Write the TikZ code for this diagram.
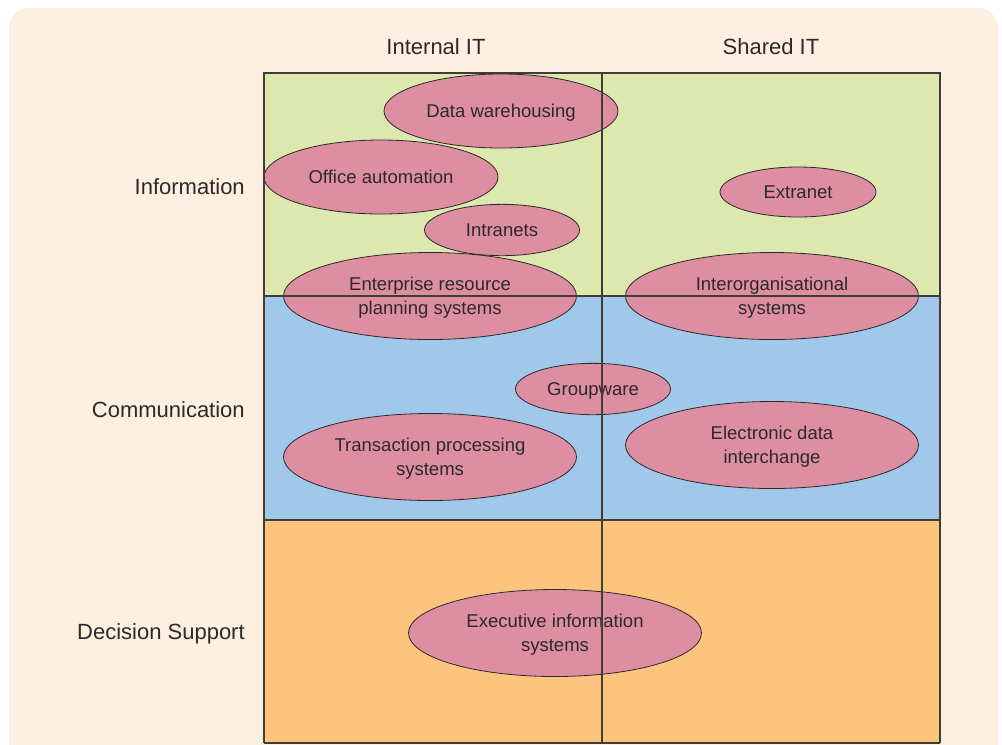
\documentclass[tikz,border=0pt]{standalone}
\usepackage{fontspec}
\newfontfamily\diagfont{Liberation Sans}
\usepackage{xcolor}
\usetikzlibrary{shapes.geometric, positioning}

\definecolor{panelcream}{HTML}{FDF0E1}
\definecolor{infogreen}{HTML}{DCE8AE}
\definecolor{commblue}{HTML}{A0C8EA}
\definecolor{decorange}{HTML}{FDC47E}
\definecolor{ovalpink}{HTML}{DE8EA2}
\definecolor{inkgray}{HTML}{2B2A28}
\definecolor{gridgray}{HTML}{3F3D36}

\begin{document}
\begin{tikzpicture}[
    x=0.75pt, y=-0.75pt,
    oval/.style={ellipse, draw=inkgray, line width=0.6pt, fill=ovalpink, inner sep=0pt, align=center,
        text depth=0pt, text=inkgray, font=\diagfont\fontsize{13.9pt}{18pt}\selectfont},
    bigoval/.style={oval, minimum width=219.75pt, minimum height=65.25pt},
    midoval/.style={oval, minimum width=175.5pt, minimum height=55.5pt},
    smalloval/.style={oval, minimum width=116.25pt, minimum height=38.5pt},
    heading/.style={text=inkgray, inner sep=0pt, font=\diagfont\fontsize{16.5pt}{20pt}\selectfont},
    gridline/.style={draw=gridgray, line width=0.8pt}
]
\useasboundingbox (0,0) rectangle (1002,744);

% Panel
\fill[panelcream, rounded corners=15pt] (9,8) rectangle (998,770);

% Bands
\fill[infogreen] (264,73) rectangle (940,296);
\fill[commblue] (264,296) rectangle (940,520);
\fill[decorange] (264,520) rectangle (940,743);

% Column and row headings
\node[heading] (internal) at (436,47) {Internal IT};
\node[heading] (shared) at (771,47) {Shared IT};
\node[heading, anchor=east] (info) at (245,187) {Information};
\node[heading, anchor=east] (comm) at (245,410) {Communication};
\node[heading, anchor=east] (decision) at (245,634) {Decision Support};

% Systems
\node[midoval] (warehouse) at (501,111) {Data warehousing};
\node[midoval] (office) at (381,177) {Office automation};
\node[smalloval] (intranets) at (502,230) {Intranets};
\node[smalloval, minimum width=117pt, minimum height=37.5pt] (extranet) at (798,192) {Extranet};
\node[bigoval] (erp) at (430,296) {Enterprise resource\\planning systems};
\node[bigoval] (interorg) at (772,296) {Interorganisational\\systems};
\node[smalloval] (groupware) at (593,389) {Groupware};
\node[bigoval] (tps) at (430,457) {Transaction processing\\systems};
\node[bigoval] (edi) at (772,445) {Electronic data\\interchange};
\node[bigoval] (eis) at (555,633) {Executive information\\systems};

% Grid
\draw[gridline] (264,743) -- (264,73) -- (940,73) -- (940,743);
\draw[gridline] (264,296) -- (940,296);
\draw[gridline] (264,520) -- (940,520);
\draw[gridline] (602,73) -- (602,743);
\draw[gridline] (264,743) -- (940,743);

\end{tikzpicture}
\end{document}
